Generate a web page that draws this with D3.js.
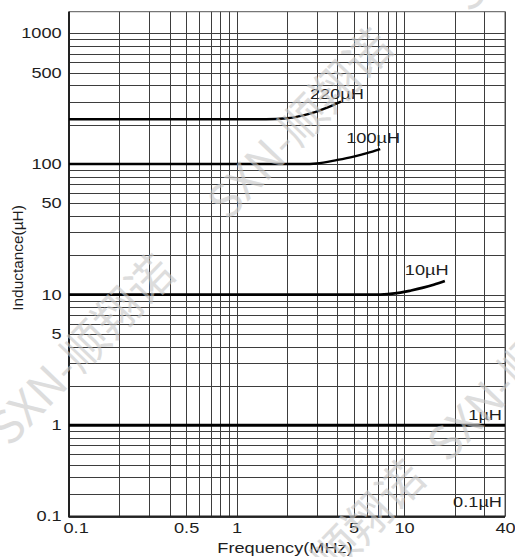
<!DOCTYPE html>
<html>
<head>
<meta charset="utf-8">
<script src="https://cdn.jsdelivr.net/npm/d3@7"></script>
<style>
body { margin: 0; background: #fff; }
svg { display: block; font-family: "Liberation Sans", Arial, Helvetica, sans-serif; }
</style>
</head>
<body>
<svg width="515" height="557"></svg>
<script>
// curves (frequency in MHz, inductance in uH)
let freq220 = [0.1, 1.5, 2.0, 2.5, 3.0, 3.5, 4.2];
let ind220 = [220, 220, 224, 236, 252, 271, 300];
let freq100 = [0.1, 2.5, 3.0, 4.0, 5.0, 6.0, 7.2];
let ind100 = [100, 100, 101, 107.5, 114, 121, 130];
let freq10 = [0.1, 6.5, 8, 9.5, 11, 13, 15, 17.5];
let ind10 = [10, 10, 10.1, 10.35, 10.75, 11.3, 11.9, 12.7];
let freq1 = [0.1, 40];
let ind1 = [1, 1];

let seriesNames = ["220µH", "100µH", "10µH", "1µH", "0.1µH"];

let xTicks = [0.1, 0.5, 1, 5, 10, 40];
let xTickLabels = ["0.1", "0.5", "1", "5", "10", "40"];
// the bottom edge of the original sits at 0.2 but is printed "0.1"
let yTicks = [1000, 500, 100, 50, 10, 5, 1, 0.2];
let yTickLabels = ["1000", "500", "100", "50", "10", "5", "1", "0.1"];

let svg = d3.select("svg");
let plotLeft = 69, plotRight = 505, plotTop = 11.7, plotBottom = 516.5;
let stretch = "scale(1.3,1)";
let ink = "#1e1e1e";

let x = d3.scaleLog().domain([0.1, 40]).range([plotLeft, plotRight]);
let y = d3.scaleLog().domain([0.2, 1466]).range([plotBottom, plotTop]);

let px = v => Math.round(v) + 0.5;

// grid
let grid = svg.append("g");
grid.selectAll(".vx")
    .data(x.ticks())
    .enter().append("line")
    .attr("x1", d => px(x(d))).attr("x2", d => px(x(d)))
    .attr("y1", plotTop).attr("y2", plotBottom)
    .attr("stroke", "#3d3d3d").attr("stroke-width", 1);
grid.selectAll(".hy")
    .data(y.ticks())
    .enter().append("line")
    .attr("x1", plotLeft).attr("x2", plotRight)
    .attr("y1", d => px(y(d))).attr("y2", d => px(y(d)))
    .attr("stroke", "#3d3d3d").attr("stroke-width", 1);

// frame
svg.append("rect")
    .attr("x", plotLeft).attr("y", plotTop)
    .attr("width", plotRight - plotLeft).attr("height", plotBottom - plotTop)
    .attr("fill", "none").attr("stroke", "#555");
svg.append("path")
    .attr("d", `M${plotLeft},${plotTop} V${plotBottom} H${plotRight}`)
    .attr("fill", "none").attr("stroke", "#222").attr("stroke-width", 2);

// curves
let line = d3.line()
    .x(d => x(d[0]))
    .y(d => y(d[1]))
    .curve(d3.curveMonotoneX);

let series = [
    d3.zip(freq220, ind220),
    d3.zip(freq100, ind100),
    d3.zip(freq10, ind10),
    d3.zip(freq1, ind1)
];
let widths = [2.4, 2.4, 2.8, 3];

svg.selectAll(".curve")
    .data(series)
    .enter().append("path")
    .attr("d", line)
    .attr("fill", "none")
    .attr("stroke", "#000")
    .attr("stroke-width", (d, i) => widths[i]);

// curve labels, offset from the end of each curve
let labelOffsets = [[-31, -3], [-34, -6], [-40, -6.5]];
series.slice(0, 3).forEach((s, i) => {
    let last = s[s.length - 1];
    svg.append("text")
        .attr("transform", `translate(${x(last[0]) + labelOffsets[i][0]},${y(last[1]) + labelOffsets[i][1]}) ${stretch}`)
        .attr("font-size", 14)
        .attr("fill", ink)
        .text(seriesNames[i]);
});
svg.append("text")
    .attr("transform", `translate(${plotRight - 3},${y(1) - 5}) ${stretch}`)
    .attr("text-anchor", "end").attr("font-size", 14).attr("fill", ink)
    .text(seriesNames[3]);
svg.append("text")
    .attr("transform", `translate(${plotRight - 3},${plotBottom - 10}) ${stretch}`)
    .attr("text-anchor", "end").attr("font-size", 14).attr("fill", ink)
    .text(seriesNames[4]);

// axes
let xAxis = svg.append("g")
    .attr("transform", `translate(0,${plotBottom})`)
    .call(d3.axisBottom(x).tickValues(xTicks).tickSize(0).tickPadding(7)
        .tickFormat((d, i) => xTickLabels[i]));
let yAxis = svg.append("g")
    .attr("transform", `translate(${plotLeft},0)`)
    .call(d3.axisLeft(y).tickValues(yTicks).tickSize(0).tickPadding(0)
        .tickFormat((d, i) => yTickLabels[i]));

[xAxis, yAxis].forEach(a => {
    a.select(".domain").remove();
    a.selectAll("text")
        .attr("font-size", 14)
        .attr("font-family", "Liberation Sans, Arial, sans-serif")
        .attr("fill", ink)
        .attr("transform", stretch);
});
yAxis.selectAll("text").attr("x", -7.3 / 1.3);
xAxis.selectAll("text")
    .filter(d => d === 0.1)
    .attr("text-anchor", "start")
    .attr("x", -6 / 1.3);

svg.append("text")
    .attr("transform", `translate(${(plotLeft + plotRight) / 2 - 2},553) ${stretch}`)
    .attr("text-anchor", "middle").attr("font-size", 14).attr("fill", ink)
    .text("Frequency(MHz)");
svg.append("text")
    .attr("transform", "translate(23,258) rotate(-90) scale(1.1,1.1)")
    .attr("text-anchor", "middle").attr("font-size", 14).attr("fill", ink)
    .text("Inductance(µH)");

// watermark
let marks = [
    { x: 10, y: 448, anchor: "start" },
    { x: 228, y: 222, anchor: "start" },
    { x: 428, y: 480, anchor: "end" },
    { x: 448, y: 464, anchor: "start" },
    { x: 470, y: 14, anchor: "start" }
];
svg.selectAll(".mark")
    .data(marks)
    .enter().append("text")
    .attr("transform", d => `translate(${d.x},${d.y}) rotate(-46)`)
    .attr("text-anchor", d => d.anchor)
    .attr("font-family", "Noto Sans CJK SC, sans-serif")
    .attr("font-size", 46)
    .attr("fill", "#c8c8c8")
    .attr("opacity", 0.6)
    .text("SXN-顺翔诺");
</script>
</body>
</html>
